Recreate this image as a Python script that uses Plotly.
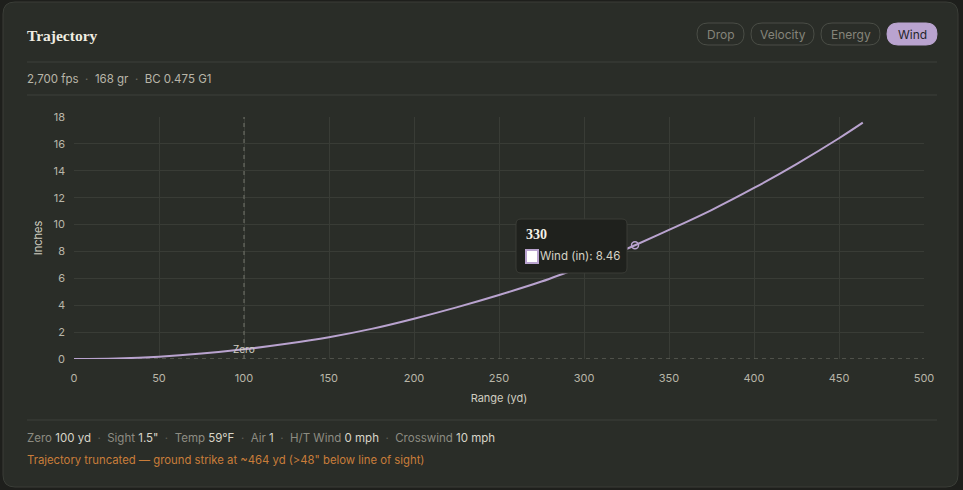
import plotly.graph_objects as go

# ---- data ----
range_yd = [0, 25, 50, 75, 100, 125, 150, 175, 200, 225, 250, 275, 300, 325, 330, 350, 375, 400, 425, 450, 464]
wind_in = [0.0, 0.04, 0.17, 0.40, 0.72, 1.13, 1.62, 2.24, 3.0, 3.84, 4.76, 5.76, 6.93, 8.18, 8.46, 9.6, 11.08, 12.72, 14.5, 16.42, 17.58]
hover_x = 330
hover_y = 8.46
zero_range = 100
x_ticks = [0, 50, 100, 150, 200, 250, 300, 350, 400, 450, 500]
y_ticks = [0, 2, 4, 6, 8, 10, 12, 14, 16, 18]
buttons = ["Drop", "Velocity", "Energy", "Wind"]

W, H = 963, 490
L, R, T, B = 74, 924, 117, 359

def px(x):
    return (x - L) / (R - L)

def py(y):
    return (B - y) / (B - T)

def rrect(x0, y0, x1, y1, r):
    X0, X1 = px(x0), px(x1)
    Y0, Y1 = py(y0), py(y1)
    rx = r / (R - L)
    ry = r / (B - T)
    p = (f"M {X0+rx},{Y0} L {X1-rx},{Y0} Q {X1},{Y0} {X1},{Y0-ry} "
         f"L {X1},{Y1+ry} Q {X1},{Y1} {X1-rx},{Y1} L {X0+rx},{Y1} "
         f"Q {X0},{Y1} {X0},{Y1+ry} L {X0},{Y0-ry} Q {X0},{Y0} {X0+rx},{Y0} Z")
    return p

OUTER = "#1e1f1c"
CARD = "#2a2d28"
BORDER = "#3a3d37"
GRID = "#393c36"
TXT = "#b9b6a8"
PURPLE = "#b9a3cf"
FONT = "Inter, Roboto, sans-serif"
FS = 11.5

fig = go.Figure()
fig.add_trace(go.Scatter(x=range_yd, y=wind_in, mode="lines",
                         line=dict(color=PURPLE, width=2, shape="spline"),
                         hoverinfo="skip", showlegend=False))
fig.add_trace(go.Scatter(x=[hover_x], y=[hover_y], mode="markers",
                         marker=dict(size=7, color="rgba(0,0,0,0)", line=dict(color=PURPLE, width=1.5)),
                         hoverinfo="skip", showlegend=False))

shapes = []
# card
shapes.append(dict(type="path", xref="paper", yref="paper", path=rrect(3, 2, 958, 487, 12),
                   fillcolor=CARD, line=dict(color=BORDER, width=1), layer="below"))
# dividers
for yy in (62, 95, 420):
    shapes.append(dict(type="line", xref="paper", yref="paper", x0=px(27), x1=px(937), y0=py(yy), y1=py(yy),
                       line=dict(color="#3d403a", width=1), layer="below"))
# buttons
btn_pos = [(697, 744), (751, 814), (821, 880), (887, 937)]
annotations = []
for name, (bx0, bx1) in zip(buttons, btn_pos):
    active = name == "Wind"
    shapes.append(dict(type="path", xref="paper", yref="paper", path=rrect(bx0, 23, bx1, 45, 11),
                       fillcolor=PURPLE if active else CARD,
                       line=dict(color=PURPLE if active else "#4a4d46", width=1), layer="below"))
    annotations.append(dict(xref="paper", yref="paper", x=px((bx0 + bx1) / 2), y=py(34.5),
                            text=name, showarrow=False, xanchor="center", yanchor="middle",
                            font=dict(family=FONT, size=12, color="#25262a" if active else "#85847a")))
# zero lines
shapes.append(dict(type="line", xref="x", yref="y", x0=0, x1=500, y0=0, y1=0,
                   line=dict(color="#75766c", width=1, dash="4px,4px"), layer="between"))
shapes.append(dict(type="line", xref="x", yref="y", x0=zero_range, x1=zero_range, y0=0, y1=18,
                   line=dict(color="#75766c", width=1, dash="4px,4px"), layer="between"))
# tooltip
shapes.append(dict(type="path", xref="paper", yref="paper", path=rrect(516, 219, 627, 273, 5),
                   fillcolor="#1f211d", line=dict(color="#3a3c36", width=1), layer="above"))
shapes.append(dict(type="rect", xref="paper", yref="paper", x0=px(526), x1=px(538), y0=py(263), y1=py(250),
                   fillcolor="#ffffff", line=dict(color=PURPLE, width=2), layer="above"))

# texts
annotations += [
    dict(xref="paper", yref="paper", x=px(25), y=py(35), text="<b>Trajectory</b>", showarrow=False,
         xanchor="left", yanchor="middle", font=dict(family="Liberation Serif", size=15.5, color="#f0ede2")),
    dict(xref="paper", yref="paper", x=px(25), y=py(79),
         text="2,700 fps <span style='color:#6f6f66'>&nbsp;·&nbsp;</span> 168 gr <span style='color:#6f6f66'>&nbsp;·&nbsp;</span> BC 0.475 G1",
         showarrow=False, xanchor="left", yanchor="middle", font=dict(family=FONT, size=FS, color=TXT)),
    dict(xref="x", yref="paper", x=zero_range, y=py(349), text="Zero", showarrow=False,
         xanchor="center", yanchor="middle", font=dict(family=FONT, size=10, color="#cfccc0")),
    dict(xref="paper", yref="paper", x=px(524), y=py(234), text="<b>330</b>", showarrow=False,
         xanchor="left", yanchor="middle", font=dict(family="Liberation Serif", size=14, color="#f3f0e6")),
    dict(xref="paper", yref="paper", x=px(538), y=py(256), text=f"Wind (in): {hover_y:.2f}", showarrow=False,
         xanchor="left", yanchor="middle", font=dict(family=FONT, size=FS, color="#d6d3c6")),
]
dim = "#8d8c82"
sep = "<span style='color:#5f5f57'>&nbsp;·&nbsp;</span>"
footer = (f"<span style='color:{dim}'>Zero</span> 100 yd {sep} <span style='color:{dim}'>Sight</span> 1.5\" {sep} "
          f"<span style='color:{dim}'>Temp</span> 59°F {sep} <span style='color:{dim}'>Air</span> 1 {sep} "
          f"<span style='color:{dim}'>H/T Wind</span> 0 mph {sep} <span style='color:{dim}'>Crosswind</span> 10 mph")
annotations.append(dict(xref="paper", yref="paper", x=px(25), y=py(438), text=footer, showarrow=False,
                        xanchor="left", yanchor="middle", font=dict(family=FONT, size=FS, color="#d8d5c8")))
annotations.append(dict(xref="paper", yref="paper", x=px(25), y=py(460),
                        text="Trajectory truncated — ground strike at ~464 yd (>48\" below line of sight)",
                        showarrow=False, xanchor="left", yanchor="middle",
                        font=dict(family=FONT, size=11.3, color="#c97d3a")))

fig.update_layout(
    width=W, height=H,
    margin=dict(l=L, r=W - R, t=T, b=H - B, pad=0),
    paper_bgcolor=OUTER, plot_bgcolor=CARD,
    font=dict(family=FONT, color=TXT, size=11),
    shapes=shapes, annotations=annotations,
    showlegend=False,
    xaxis=dict(range=[0, 500], tickvals=x_ticks, showgrid=True, gridcolor=GRID, gridwidth=1,
               zeroline=False, showline=False, ticks="", ticklen=0, ticklabelstandoff=11,
               tickfont=dict(size=11, color=TXT),
               title=dict(text="Range (yd)", font=dict(size=11, color="#d0cdc0"), standoff=10),
               fixedrange=True),
    yaxis=dict(range=[0, 18], tickvals=y_ticks, showgrid=True, gridcolor=GRID, gridwidth=1,
               zeroline=False, showline=False, ticks="", ticklen=0, ticklabelstandoff=8,
               tickfont=dict(size=11, color=TXT),
               title=dict(text="Inches", font=dict(size=11, color="#d0cdc0"), standoff=8),
               fixedrange=True),
)
fig.write_html("out.html")
